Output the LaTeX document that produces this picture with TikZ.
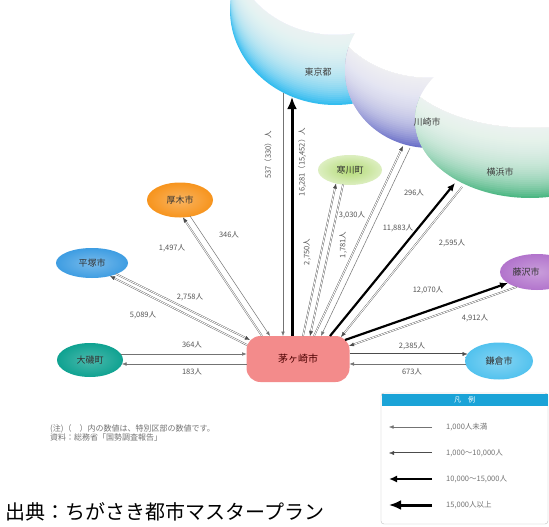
\documentclass[tikz,border=0pt]{standalone}
\usepackage{fontspec}
\setmainfont{Noto Sans CJK JP}
\usetikzlibrary{shapes.geometric,arrows.meta,calc}
\definecolor{tkblue}{HTML}{35BDEF}
\definecolor{kwblue}{HTML}{6A70C8}
\definecolor{yhgreen}{HTML}{4CB783}
\definecolor{atsu}{HTML}{F7941D}
\definecolor{hira}{HTML}{3E9DE2}
\definecolor{oiso}{HTML}{0FA291}
\definecolor{kama}{HTML}{52C2EE}
\definecolor{fuji}{HTML}{B274CC}
\definecolor{samu}{HTML}{B2DA74}
\definecolor{chigac}{HTML}{F38B8B}
\definecolor{legcyan}{HTML}{1AA3D7}
\definecolor{labgray}{HTML}{555555}
\newcommand\labf{\fontsize{7.5}{8}\selectfont}
\newcommand\cityf{\fontsize{9}{10}\selectfont}
\begin{document}
\begin{tikzpicture}[x=1pt,y=-1pt,
  thinflow/.style={draw=black!55,line width=0.5pt,-{Latex[length=4.5pt,width=3.6pt]}},
  midflow/.style={draw=black!70,line width=0.35pt,double=white,double distance=0.9pt,-{Latex[length=5pt,width=4pt]}},
  bigflow/.style={draw=black,line width=2.2pt,-{Latex[length=8pt,width=7pt]}},
  hugeflow/.style={draw=black,line width=3pt,-{Latex[length=12pt,width=10pt]}},
  city/.style={ellipse,inner sep=0pt,font=\cityf,text=black!80},
  bowltext/.style={font=\cityf,text=black!75,inner sep=1pt},
  lab/.style={font=\labf,text=labgray,inner sep=0.5pt},
  legtext/.style={font=\labf,text=black!55,anchor=west,inner sep=0pt},
  veil/.style={fill=white,fill opacity=0.075},
]
\useasboundingbox (0,0) rectangle (549,527);
\fill[white] (0,0) rectangle (549,527);
\begin{scope}
\clip (0,0) rectangle (549,527);
% Tokyo bowl
\begin{scope}
\clip (335,10) ellipse [x radius=105,y radius=95];
\fill[tkblue,even odd rule] (200,-120) rectangle (470,130) (335,-60) ellipse [x radius=105,y radius=95];
\foreach \s in {2,4,...,68} \fill[veil] (335,10-\s) ellipse [x radius=105,y radius=95];
\end{scope}
% Kawasaki bowl
\begin{scope}
\clip (430,70) ellipse [x radius=85,y radius=78];
\fill[white] (300,-40) rectangle (560,170);
\fill[kwblue,even odd rule] (300,-40) rectangle (560,170) (430,0) ellipse [x radius=102,y radius=78];
\foreach \s in {2,4,...,68} \fill[veil] (430,70-\s) ellipse [x radius=102,y radius=78];
\end{scope}
% Yokohama bowl
\begin{scope}
\clip (530,120) ellipse [x radius=115,y radius=78];
\fill[white] (380,20) rectangle (680,220);
\fill[yhgreen,even odd rule] (380,20) rectangle (680,220) (530,50) ellipse [x radius=138,y radius=78];
\foreach \s in {2,4,...,68} \fill[veil] (530,120-\s) ellipse [x radius=138,y radius=78];
\end{scope}
\node[city,minimum width=74pt,minimum height=36pt,inner color=fuji!70!white,outer color=fuji] (fujisawa) at (537,272) {};
\end{scope}
\node[font=\cityf,text=black!80,inner sep=0pt] (fujisawaT) at (526,272) {藤沢市};

% bowl labels and rim points
\node[bowltext] (tokyo) at (318,72) {東京都};
\node[bowltext] (kawasaki) at (427,122) {川崎市};
\node[bowltext] (yokohama) at (500,172) {横浜市};
\coordinate (tkA) at (292,97);
\coordinate (tkB) at (283,93);
\coordinate (kwA) at (403,146);
\coordinate (kwB) at (410,148);
\coordinate (yhA) at (455,183);
\coordinate (yhB) at (462,187);

% city nodes
\node[city,minimum width=66pt,minimum height=35pt,inner color=atsu!70!white,outer color=atsu] (atsugi) at (180,200) {厚木市};
\node[city,minimum width=72pt,minimum height=30pt,inner color=hira!70!white,outer color=hira] (hiratsuka) at (92,263) {平塚市};
\node[city,minimum width=66pt,minimum height=34pt,inner color=oiso!75!white,outer color=oiso] (oiso) at (90,360) {大磯町};
\node[city,minimum width=64pt,minimum height=30pt,inner color=samu,outer color=samu!45!white] (samukawa) at (350,170) {寒川町};
\node[city,minimum width=68pt,minimum height=37pt,inner color=kama!70!white,outer color=kama] (kamakura) at (499,361) {鎌倉市};
\node[rectangle,rounded corners=14pt,minimum width=103pt,minimum height=46pt,fill=chigac,font=\fontsize{10}{11}\selectfont,text=black!70!red] (chiga) at (298,359) {茅ヶ崎市};

% Tokyo
\draw[hugeflow] ($(chiga.center)+(-6,-23)$) -- (tkA);
\draw[thinflow] (tkB) -- ($(chiga.center)+(-15,-23)$);
% Samukawa
\draw[midflow] ($(chiga.center)+(5,-23)$) -- ($(samukawa.center)+(-14,13.5)$);
\draw[midflow] ($(samukawa.center)+(-7,14.6)$) -- ($(chiga.center)+(12,-23)$);
% Kawasaki
\draw[midflow] ($(chiga.center)+(16,-23)$) -- (kwA);
\draw[thinflow] (kwB) -- ($(chiga.center)+(23,-23)$);
% Yokohama
\draw[bigflow] ($(chiga.center)+(32,-23)$) -- (yhA);
\draw[midflow] (yhB) -- ($(chiga.center)+(43,-22)$);
% Fujisawa
\draw[bigflow] ($(chiga.center)+(47,-19)$) -- ($(fujisawa.center)+(-29,11)$);
\draw[midflow] ($(fujisawa.center)+(-20.5,15)$) -- ($(chiga.center)+(51,-13)$);
% Kamakura
\draw[midflow] ($(chiga.center)+(51.5,-5)$) -- ($(kamakura.center)+(-31.5,-7)$);
\draw[thinflow] ($(kamakura.center)+(-33,3)$) -- ($(chiga.center)+(51.5,5)$);
% Oiso
\draw[thinflow] ($(oiso.center)+(31,-6)$) -- ($(chiga.center)+(-51.5,-5)$);
\draw[thinflow] ($(chiga.center)+(-51.5,5)$) -- ($(oiso.center)+(32,4)$);
% Hiratsuka
\draw[midflow] ($(chiga.center)+(-51,-14)$) -- ($(hiratsuka.center)+(18,13)$);
\draw[midflow] ($(hiratsuka.center)+(24,11)$) -- ($(chiga.center)+(-48,-19)$);
% Atsugi
\draw[midflow] ($(chiga.center)+(-36,-23)$) -- ($(atsugi.center)+(3,17.5)$);
\draw[thinflow] ($(atsugi.center)+(10,16)$) -- ($(chiga.center)+(-28,-23)$);

% labels
\node[lab,rotate=90] (l537) at (268,155) {537（330）人};
\node[lab,rotate=90] (l16281) at (302,162) {16,281（15,452）人};
\node[lab,rotate=90] (l2750) at (307,252) {2,750人};
\node[lab,rotate=90] (l1781) at (343,245) {1,781人};
\node[lab] (l3030) at (352,215) {3,030人};
\node[lab] (l296) at (414,193) {296人};
\node[lab] (l11883) at (398,228) {11,883人};
\node[lab] (l2595) at (452,243) {2,595人};
\node[lab] (l12070) at (428,290) {12,070人};
\node[lab] (l4912) at (475,318) {4,912人};
\node[lab] (l2385) at (412,346) {2,385人};
\node[lab] (l673) at (412,372) {673人};
\node[lab] (l364) at (192,345) {364人};
\node[lab] (l183) at (192,372) {183人};
\node[lab] (l2758) at (190,297) {2,758人};
\node[lab] (l5089) at (143,315) {5,089人};
\node[lab] (l1497) at (172,248) {1,497人};
\node[lab] (l346) at (229,235) {346人};

% legend
\node[draw=black!25,fill=white,rounded corners=3pt,minimum width=167pt,minimum height=131pt,inner sep=0pt] (legbox) at (464.5,458.5) {};
\node[fill=legcyan,minimum width=166pt,minimum height=12pt,inner sep=0pt,text=white,font=\fontsize{7}{8}\selectfont] (leghead) at (464.5,399.5) {凡　例};
\coordinate (lg1a) at (432,427); \coordinate (lg1b) at (389,427);
\coordinate (lg2a) at (432,453); \coordinate (lg2b) at (389,453);
\coordinate (lg3a) at (432,479); \coordinate (lg3b) at (389,479);
\coordinate (lg4a) at (432,505); \coordinate (lg4b) at (389,505);
\draw[thinflow] (lg1a) -- (lg1b);
\draw[midflow] (lg2a) -- (lg2b);
\draw[bigflow] (lg3a) -- (lg3b);
\draw[hugeflow] (lg4a) -- (lg4b);
\node[legtext] (lgt1) at (446,427) {1,000人未満};
\node[legtext] (lgt2) at (446,453) {1,000～10,000人};
\node[legtext] (lgt3) at (446,479) {10,000～15,000人};
\node[legtext] (lgt4) at (446,505) {15,000人以上};

% note and source
\node[anchor=north west,align=left,font=\fontsize{8}{9.5}\selectfont,text=black!55,inner sep=0pt] (note) at (50,424) {(注)（　）内の数値は、特別区部の数値です。\\資料：総務省「国勢調査報告」};
\node[anchor=west,font=\fontsize{20}{22}\selectfont,inner sep=0pt] (src) at (5,512) {出典：ちがさき都市マスタープラン};
\end{tikzpicture}
\end{document}
